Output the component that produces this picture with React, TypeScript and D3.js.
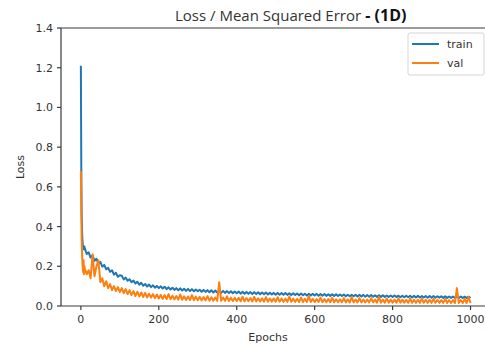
import React from "react";
import * as d3 from "d3";

const earlyEpochs = [0, 1, 2, 3, 4, 5, 6, 7, 8, 9];
const trainEarly = [1.21, 0.72, 0.47, 0.38, 0.33, 0.31, 0.3, 0.29, 0.285, 0.3];
const valEarly = [0.68, 0.5, 0.33, 0.27, 0.22, 0.19, 0.17, 0.23, 0.16, 0.2];

// values every 5 epochs from 10 to 1000
const trainLate = [
  0.29, 0.262, 0.27, 0.244, 0.255, 0.228, 0.238, 0.213, 0.222, 0.198, 0.207, 0.185, 0.192, 0.172, 0.18, 0.158, 0.167, 0.147, 0.155,
  0.152, 0.134, 0.143, 0.127, 0.135, 0.12, 0.128, 0.113, 0.122, 0.107, 0.117, 0.102, 0.111, 0.098, 0.108, 0.095, 0.104, 0.092, 0.101, 0.09,
  0.099, 0.088, 0.097, 0.085, 0.094, 0.083, 0.092, 0.081, 0.09, 0.079, 0.089, 0.078, 0.087, 0.076, 0.086, 0.075, 0.085, 0.074, 0.083, 0.074,
  0.082, 0.072, 0.081, 0.071, 0.08, 0.069, 0.079, 0.068, 0.078, 0.067, 0.077, 0.066, 0.076, 0.066, 0.075, 0.065, 0.074, 0.064, 0.073, 0.064,
  0.073, 0.062, 0.072, 0.062, 0.071, 0.061, 0.07, 0.06, 0.07, 0.06, 0.069, 0.059, 0.068, 0.059, 0.068, 0.058, 0.067, 0.058, 0.066, 0.057,
  0.066, 0.057, 0.065, 0.056, 0.065, 0.056, 0.064, 0.055, 0.064, 0.055, 0.063, 0.054, 0.063, 0.054, 0.062, 0.053, 0.062, 0.053, 0.061, 0.053,
  0.061, 0.052, 0.06, 0.052, 0.06, 0.051, 0.059, 0.051, 0.059, 0.05, 0.059, 0.05, 0.058, 0.05, 0.058, 0.049, 0.057, 0.049, 0.057, 0.049,
  0.056, 0.048, 0.056, 0.048, 0.056, 0.047, 0.055, 0.047, 0.055, 0.047, 0.054, 0.046, 0.054, 0.046, 0.054, 0.046, 0.053, 0.045, 0.053, 0.045,
  0.053, 0.045, 0.052, 0.044, 0.052, 0.044, 0.052, 0.044, 0.051, 0.043, 0.051, 0.043, 0.051, 0.043, 0.05, 0.043, 0.05, 0.042, 0.05, 0.042,
  0.05, 0.042, 0.049, 0.042, 0.049, 0.041, 0.049, 0.041, 0.048, 0.041, 0.048, 0.041, 0.048, 0.04, 0.048, 0.04, 0.047, 0.04, 0.047, 0.04,
];
const valLate = [
  0.19, 0.16, 0.18, 0.14, 0.26, 0.15, 0.2, 0.23, 0.12, 0.14, 0.1, 0.125, 0.09, 0.11, 0.08, 0.1, 0.075, 0.095, 0.07,
  0.09, 0.065, 0.085, 0.06, 0.08, 0.055, 0.075, 0.05, 0.072, 0.048, 0.068, 0.045, 0.066, 0.043, 0.062, 0.042, 0.06, 0.04, 0.058, 0.038,
  0.056, 0.036, 0.055, 0.035, 0.06, 0.034, 0.052, 0.033, 0.05, 0.032, 0.058, 0.031, 0.049, 0.03, 0.048, 0.03, 0.055, 0.029, 0.047, 0.029,
  0.046, 0.028, 0.045, 0.028, 0.05, 0.027, 0.044, 0.027, 0.043, 0.026, 0.12, 0.026, 0.043, 0.026, 0.049, 0.025, 0.042, 0.025, 0.041, 0.025,
  0.041, 0.024, 0.047, 0.024, 0.04, 0.024, 0.04, 0.023, 0.046, 0.023, 0.039, 0.023, 0.039, 0.022, 0.045, 0.022, 0.038, 0.022, 0.038, 0.022,
  0.044, 0.022, 0.038, 0.021, 0.037, 0.021, 0.048, 0.021, 0.037, 0.021, 0.036, 0.02, 0.043, 0.02, 0.036, 0.02, 0.05, 0.02, 0.036, 0.02,
  0.035, 0.02, 0.042, 0.019, 0.035, 0.019, 0.035, 0.019, 0.041, 0.019, 0.034, 0.019, 0.034, 0.019, 0.04, 0.018, 0.034, 0.018, 0.045, 0.018,
  0.033, 0.018, 0.04, 0.018, 0.033, 0.018, 0.033, 0.018, 0.039, 0.018, 0.033, 0.017, 0.046, 0.017, 0.032, 0.017, 0.038, 0.017, 0.032, 0.017,
  0.032, 0.017, 0.038, 0.017, 0.032, 0.017, 0.031, 0.016, 0.037, 0.016, 0.031, 0.016, 0.031, 0.016, 0.037, 0.016, 0.031, 0.016, 0.031, 0.016,
  0.036, 0.016, 0.031, 0.016, 0.03, 0.016, 0.036, 0.015, 0.03, 0.015, 0.03, 0.015, 0.09, 0.015, 0.03, 0.015, 0.035, 0.015, 0.045, 0.015,
];

const xTicks = [0, 200, 400, 600, 800, 1000];
const yTicks = [0.0, 0.2, 0.4, 0.6, 0.8, 1.0, 1.2, 1.4];
const seriesNames = ["train", "val"];
const colors = ["#1f77b4", "#ff7f0e"];

const W = 485;
const H = 347;

export default function App() {
  const x = d3.scaleLinear().domain([-51, 1050]).range([61, 490]);
  const y = d3.scaleLinear().domain([0, 1.4]).range([306, 28]);
  const lateEpochs = trainLate.map((_, i) => 10 + i * 5);
  const epochs = [...earlyEpochs, ...lateEpochs];
  const train = [...trainEarly, ...trainLate];
  const val = [...valEarly, ...valLate];
  const line = d3
    .line<[number, number]>()
    .x((d) => x(d[0]))
    .y((d) => y(d[1]));
  const trainPts = epochs.map((e, i) => [e, train[i]] as [number, number]);
  const valPts = epochs.map((e, i) => [e, val[i]] as [number, number]);
  const tickFont = "DejaVu Sans, sans-serif";
  const axisColor = "#3a3a3a";
  return (
    <svg
      width={W}
      height={H}
      style={{ position: "absolute", left: 0, top: 0, background: "#fff" }}
    >
      <rect x={0} y={0} width={W} height={H} fill="#fff" />
      {/* title */}
      <text x={175} y={21} fontFamily="Open Sans, sans-serif" fontSize={15} fill="#333">
        Loss / Mean Squared Error
        <tspan fontFamily="Open Sans, sans-serif" fontWeight="bold" fontSize={16} fill="#111">
          {" - (1D)"}
        </tspan>
      </text>
      {/* lines */}
      <path d={line(trainPts) || ""} fill="none" stroke={colors[0]} strokeWidth={2} strokeLinejoin="round" />
      <path d={line(valPts) || ""} fill="none" stroke={colors[1]} strokeWidth={2} strokeLinejoin="round" />
      {/* spines */}
      <line x1={61} x2={61} y1={28} y2={306} stroke={axisColor} strokeWidth={1.2} />
      <line x1={61} x2={490} y1={306} y2={306} stroke={axisColor} strokeWidth={1.2} />
      <line x1={61} x2={490} y1={28} y2={28} stroke={axisColor} strokeWidth={1.2} />
      {/* y ticks */}
      {yTicks.map((t) => (
        <g key={t}>
          <line x1={57} x2={61} y1={y(t)} y2={y(t)} stroke={axisColor} strokeWidth={1.2} />
          <text x={53} y={y(t) + 4} textAnchor="end" fontFamily={tickFont} fontSize={11} fill="#333">
            {t.toFixed(1)}
          </text>
        </g>
      ))}
      {/* x ticks */}
      {xTicks.map((t) => (
        <g key={t}>
          <line x1={x(t)} x2={x(t)} y1={306} y2={310} stroke={axisColor} strokeWidth={1.2} />
          <text x={x(t)} y={323} textAnchor="middle" fontFamily={tickFont} fontSize={11} fill="#333">
            {t}
          </text>
        </g>
      ))}
      <text x={268} y={341} textAnchor="middle" fontFamily={tickFont} fontSize={11} fill="#333">
        Epochs
      </text>
      <text
        transform={`translate(24,167) rotate(-90)`}
        textAnchor="middle"
        fontFamily={tickFont}
        fontSize={11}
        fill="#333"
      >
        Loss
      </text>
      {/* legend */}
      <rect x={408} y={33} width={76} height={42} rx={2} fill="#fff" stroke="#d5d5d5" strokeWidth={1} />
      {seriesNames.map((n, i) => (
        <g key={n}>
          <line x1={412} x2={439} y1={44 + i * 19} y2={44 + i * 19} stroke={colors[i]} strokeWidth={2} />
          <text x={447} y={48 + i * 19} fontFamily={tickFont} fontSize={11} fill="#333">
            {n}
          </text>
        </g>
      ))}
    </svg>
  );
}
